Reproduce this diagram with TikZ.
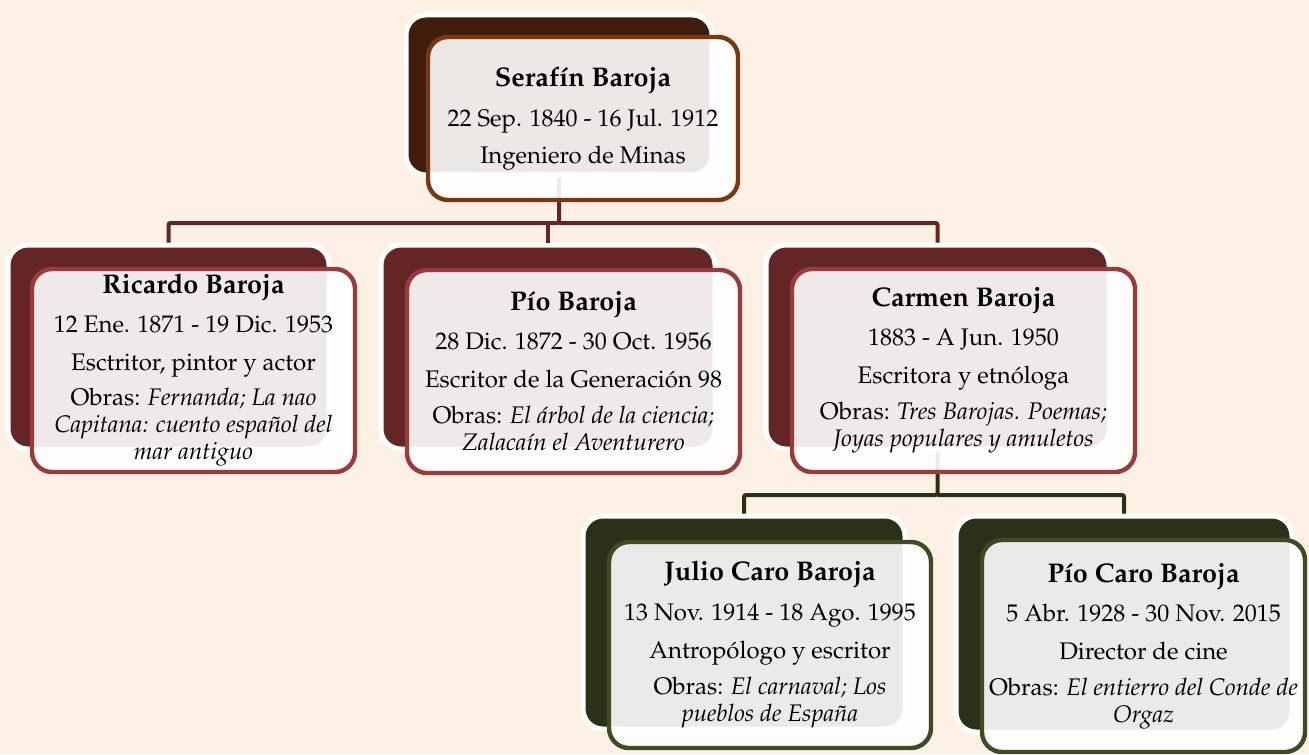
\documentclass[tikz,border=0pt]{standalone}
\usepackage[T1]{fontenc}
\usepackage{mathpazo}
\usetikzlibrary{positioning}
\definecolor{bgcream}{HTML}{FDF1E6}
\definecolor{topback}{HTML}{3F1D0A}
\definecolor{topedge}{HTML}{773812}
\definecolor{midback}{HTML}{632526}
\definecolor{midedge}{HTML}{9A3B3B}
\definecolor{lowback}{HTML}{2B3118}
\definecolor{lowedge}{HTML}{3F4C22}

\tikzset{
  backbox/.style={rectangle, rounded corners=10pt, draw=white, line width=2.5pt, fill=#1, inner sep=0pt},
  frontbox/.style={rectangle, rounded corners=10pt, draw=#1, line width=2.2pt, fill=white, fill opacity=0.9, text opacity=1, align=center, inner sep=0pt, font=\fontsize{12}{13.5}\selectfont},
  link/.style={draw=#1, line width=2pt, rounded corners=1pt}
}
\newcommand{\persname}[1]{{\fontsize{13.5}{15}\selectfont\bfseries #1}}

\begin{document}
\begin{tikzpicture}[x=0.5pt, y=-0.5pt]
        \useasboundingbox (0,0) rectangle (1309,754);
        \clip (0,0) rectangle (1309,754);
        \fill[bgcream] (0,0) rectangle (1309,754);

        % back boxes
        \node[backbox=topback, minimum width=153pt, minimum height=80pt] at (559,95) (serafinB) {};
        \node[backbox=midback, minimum width=160.5pt, minimum height=102pt] at (168.5,347) (ricardoB) {};
        \node[backbox=midback, minimum width=167pt, minimum height=102pt] at (548,347) (pioB) {};
        \node[backbox=midback, minimum width=171.5pt, minimum height=102pt] at (937.5,347) (carmenB) {};
        \node[backbox=lowback, minimum width=161pt, minimum height=106.5pt] at (744,622.5) (julioB) {};
        \node[backbox=lowback, minimum width=168pt, minimum height=108pt] at (1124,624) (piocaroB) {};

        % connectors
        \coordinate (topbus) at (558,223);
        \coordinate (lowbus) at (938,495);
        \draw[link=midback] (serafinB.south) -- (serafinB.south |- topbus) -| (ricardoB.north);
        \draw[link=midback] (serafinB.south |- topbus) -| (carmenB.north);
        \draw[link=midback] (pioB.north |- topbus) -- (pioB.north);
        \draw[link=lowback] (carmenB.south) -- (carmenB.south |- lowbus) -| (julioB.north);
        \draw[link=lowback] (carmenB.south |- lowbus) -| (piocaroB.north);

        % front boxes
        \node[frontbox=topedge, minimum width=155pt, minimum height=81.5pt] at (583,118.5) (serafin) {\persname{Seraf\'{\i}n Baroja}\\[6.5pt] 22 Sep. 1840 - 16 Jul. 1912\\[5pt] Ingeniero de Minas};
        \node[frontbox=midedge, minimum width=161.5pt, minimum height=101.5pt] at (193.5,370.5) (ricardo) {\persname{Ricardo Baroja}\\[6pt] 12 Ene. 1871 - 19 Dic. 1953\\[5.5pt] Esctritor, pintor y actor\\[4pt] Obras: \textit{Fernanda; La nao}\\ \textit{Capitana: cuento espa\~nol del}\\ \textit{mar antiguo}};
        \node[frontbox=midedge, minimum width=166.5pt, minimum height=101.5pt] at (573.5,371.5) (pio) {\persname{P\'{\i}o Baroja}\\[6pt] 28 Dic. 1872 - 30 Oct. 1956\\[5.5pt] Escritor de la Generaci\'on 98\\[4.5pt] Obras: \textit{El \'arbol de la ciencia;}\\ \textit{Zalaca\'{\i}n el Aventurero}};
        \node[frontbox=midedge, minimum width=171.5pt, minimum height=101.5pt] at (963.5,370.5) (carmen) {\persname{Carmen Baroja}\\[6pt] 1883 - A Jun. 1950\\[5.5pt] Escritora y etn\'ologa\\[4.5pt] Obras: \textit{Tres Barojas. Poemas;}\\ \textit{Joyas populares y amuletos}};
        \node[frontbox=lowedge, minimum width=161pt, minimum height=103pt] at (770,645) (julio) {\persname{Julio Caro Baroja}\\[6.5pt] 13 Nov. 1914 - 18 Ago. 1995\\[5.5pt] Antrop\'ologo y escritor\\[4.5pt] Obras: \textit{El carnaval; Los}\\ \textit{pueblos de Espa\~na}};
        \node[frontbox=lowedge, minimum width=161.5pt, minimum height=106pt] at (1143.5,646) (piocaro) {\persname{P\'{\i}o Caro Baroja}\\[6pt] 5 Abr. 1928 - 30 Nov. 2015\\[5.5pt] Director de cine\\[4.5pt] Obras: \textit{El entierro del Conde de}\\ \textit{Orgaz}};
    \end{tikzpicture}
\end{document}
